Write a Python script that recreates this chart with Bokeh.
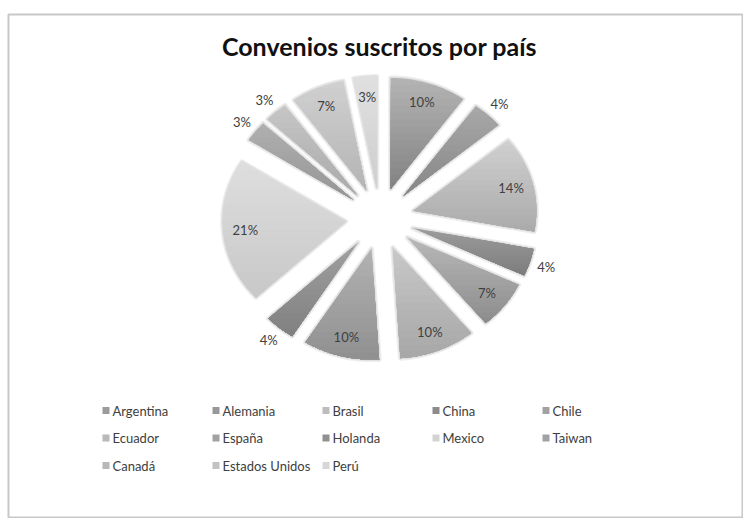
import numpy as np
from bokeh.plotting import figure
from bokeh.models import Range1d
from bokeh.core.properties import value
from bokeh.embed import file_html
from bokeh.resources import INLINE

# ---------------- data ----------------
title_text = "Convenios suscritos por país"
countries = ["Argentina", "Alemania", "Brasil", "China", "Chile", "Ecuador", "España",
             "Holanda", "Mexico", "Taiwan", "Canadá", "Estados Unidos", "Perú"]
shares = [10, 4, 14, 4, 7, 10, 10, 4, 21, 3, 3, 7, 3]
pct_labels = [f"{s}%" for s in shares]
label_place = ["in", "out", "in", "out", "in", "in", "in", "out", "in", "out", "out", "in", "in"]
top_colors = ["#b4b4b4", "#a8a8a8", "#d0d0d0", "#9c9c9c", "#b8b8b8", "#c8c8c8", "#b2b2b2",
              "#a0a0a0", "#dedede", "#b0b0b0", "#c6c6c6", "#d0d0d0", "#e0e0e0"]
bottom_colors = ["#828282", "#878787", "#aaaaaa", "#7c7c7c", "#8c8c8c", "#a7a7a7", "#909090",
                 "#808080", "#c8c8c8", "#959595", "#aaaaaa", "#b4b4b4", "#cecece"]

# ---------------- layout constants ----------------
W, H = 743, 518
BL, BT = 8, 14          # frame's top-left corner on the page
CX, CY = 379.5, 218.0   # pie centre (page px)
RX, RY = 123.0, 111.0   # pie radii (elliptical)
EXPLODE = 0.28          # explosion as fraction of radius
R_IN, R_OUT = 1.10, 1.42
NBANDS = 16

p = figure(width=W, height=H, output_backend="svg", toolbar_location=None,
           x_range=Range1d(BL, W), y_range=Range1d(H, BT),
           min_border_left=BL, min_border_right=0, min_border_bottom=0, min_border_top=BT,
           background_fill_color="white", border_fill_color="white")
p.axis.visible = False
p.grid.visible = False
p.outline_line_color = "#c8c8c8"
p.outline_line_width = 2


def hex2rgb(h):
    return np.array([int(h[i:i + 2], 16) for i in (1, 3, 5)], dtype=float)


def rgb2hex(c):
    return "#%02x%02x%02x" % tuple(int(round(v)) for v in c)


def clip_below(xs, ys, yc):
    ox, oy = [], []
    n = len(xs)
    for i in range(n):
        x1, y1 = xs[i], ys[i]
        x2, y2 = xs[(i + 1) % n], ys[(i + 1) % n]
        in1, in2 = y1 >= yc, y2 >= yc
        if in1:
            ox.append(x1); oy.append(y1)
        if in1 != in2:
            t = (yc - y1) / (y2 - y1)
            ox.append(x1 + t * (x2 - x1)); oy.append(yc)
    return ox, oy


total = float(sum(shares))
fractions = np.array(shares) / total
ends = np.cumsum(fractions) * 2 * np.pi
starts = ends - fractions * 2 * np.pi
mids = (starts + ends) / 2

shadow_xs, shadow_ys = [], []
band_xs, band_ys, band_cols = [], [], []
lab_x, lab_y = [], []
for i in range(len(shares)):
    tx = CX + EXPLODE * RX * np.sin(mids[i])
    ty = CY - EXPLODE * RY * np.cos(mids[i])
    t = np.linspace(starts[i], ends[i], 60)
    xs = [tx] + list(tx + RX * np.sin(t))
    ys = [ty] + list(ty - RY * np.cos(t))
    shadow_xs.append(xs); shadow_ys.append(ys)
    ymin, ymax = min(ys), max(ys)
    c0, c1 = hex2rgb(top_colors[i]), hex2rgb(bottom_colors[i])
    for k in range(NBANDS):
        yc = ymin + (ymax - ymin) * k / NBANDS
        bx, by = (xs, ys) if k == 0 else clip_below(xs, ys, yc)
        if len(bx) < 3:
            continue
        f = (k + 0.5) / NBANDS
        band_xs.append(bx); band_ys.append(by)
        band_cols.append(rgb2hex(c0 + (c1 - c0) * f))
    r = R_IN if label_place[i] == "in" else R_OUT
    lab_x.append(CX + r * RX * np.sin(mids[i]))
    lab_y.append(CY - r * RY * np.cos(mids[i]))

# soft shadow around slices
p.patches(shadow_xs, shadow_ys, fill_color=None, line_color="#000000", line_alpha=0.07,
          line_width=5, line_join="round")
p.patches(shadow_xs, shadow_ys, fill_color=None, line_color="#000000", line_alpha=0.06,
          line_width=2.5, line_join="round")
# gradient slices
p.patches(band_xs, band_ys, fill_color=band_cols, line_color=None)

# percent labels
p.text(lab_x, lab_y, text=pct_labels, text_font=value("Lato"), text_font_size="13px",
       text_color="#404040", text_align="center", text_baseline="middle")

# title
p.text([379], [45], text=[title_text], text_font=value("Lato"), text_font_size="25px",
       text_font_style="bold", text_color="#111111", text_align="center",
       text_baseline="middle")

# legend (grid of 5 columns)
leg_x0, leg_dx = 102, 110
leg_y0, leg_dy = 410, 27.5
col = np.arange(len(countries)) % 5
row = np.arange(len(countries)) // 5
sq_x = leg_x0 + leg_dx * col + 3.5
sq_y = leg_y0 + leg_dy * row
mid_cols = [rgb2hex((hex2rgb(a) + hex2rgb(b)) / 2) for a, b in zip(top_colors, bottom_colors)]
p.rect(sq_x, sq_y, width=7, height=7, fill_color=mid_cols, line_color=None)
p.text(sq_x + 6.5, sq_y, text=countries, text_font=value("Lato"), text_font_size="13px",
       text_color="#404040", text_align="left", text_baseline="middle")

open("out.html", "w").write(file_html(p, INLINE))
